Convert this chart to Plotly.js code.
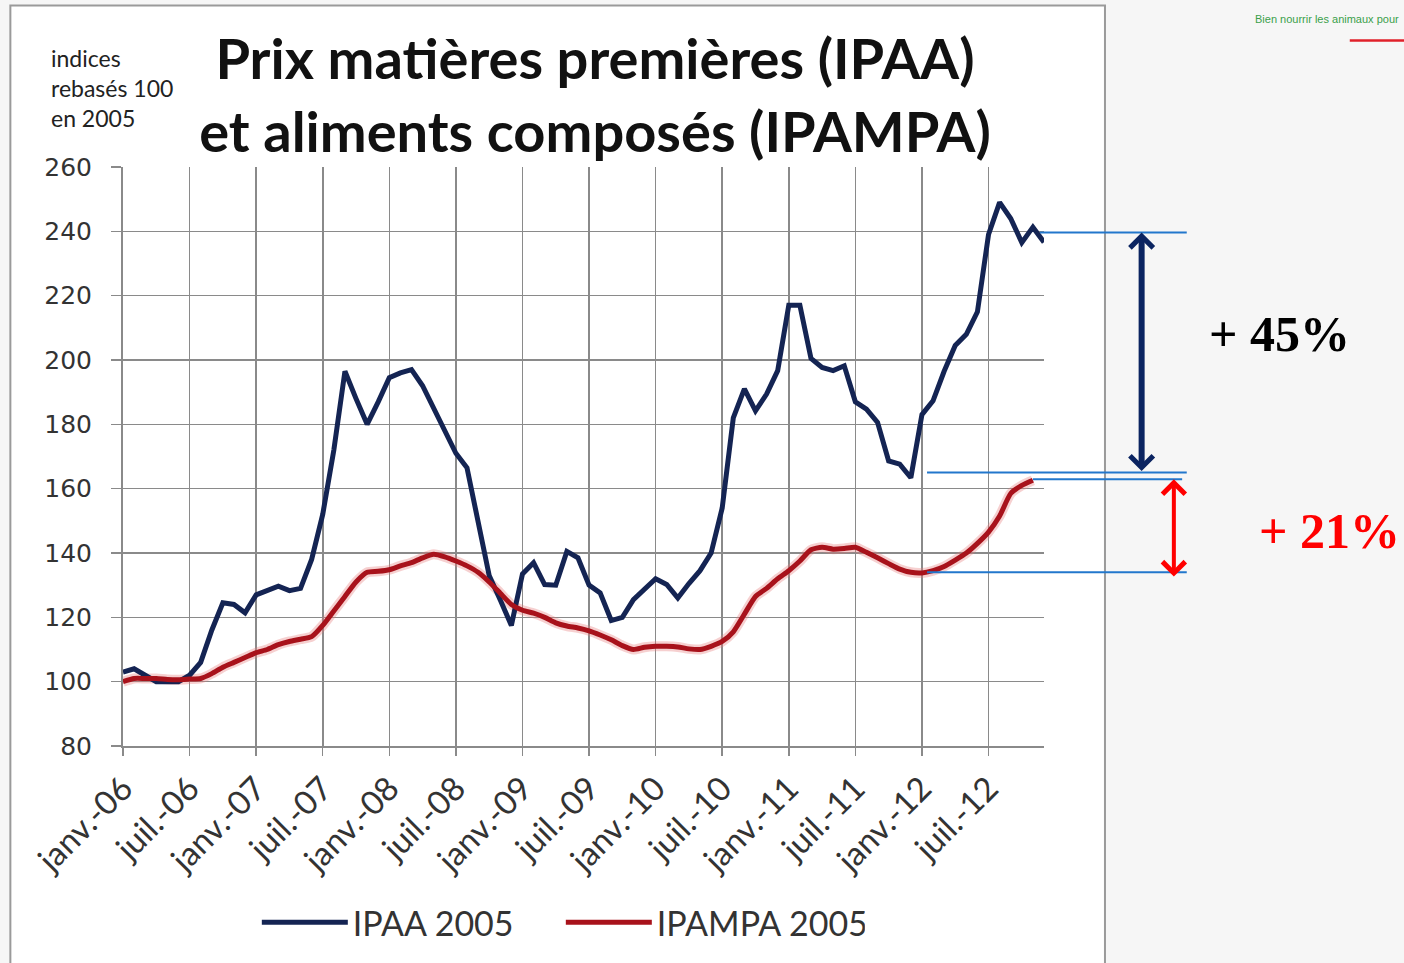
<!DOCTYPE html>
<html>
<head>
<meta charset="utf-8">
<script src="https://cdn.plot.ly/plotly-3.0.1.min.js"></script>
<style>
  html, body { margin: 0; padding: 0; background: #f6f6f6; }
  #chart { width: 1404px; height: 963px; }
</style>
</head>
<body>
<div id="chart"></div>
<script>
// ---- Data ----
const moisAbr = ['janv.', 'févr.', 'mars', 'avr.', 'mai', 'juin', 'juil.', 'août', 'sept.', 'oct.', 'nov.', 'déc.'];
const annees = ['06', '07', '08', '09', '10', '11', '12'];
const mois = annees.flatMap(a => moisAbr.map(m => m + '-' + a));

const tickLabels = ['janv.-06', 'juil.-06', 'janv.-07', 'juil.-07', 'janv.-08', 'juil.-08', 'janv.-09',
  'juil.-09', 'janv.-10', 'juil.-10', 'janv.-11', 'juil.-11', 'janv.-12', 'juil.-12'];

const ipaa = [103, 104, 102, 100, 100, 100, 102, 106, 116, 124.5,
  124, 121.4, 127, 128.5, 129.7, 128.3, 129, 138, 152, 172,
  196.5, 188, 180, 187, 194.5, 196, 197, 192, 185, 178,
  171, 166.5, 150.5, 133, 125.4, 117.5, 133.5, 137, 130.2, 130,
  140.5, 138.5, 130, 127.6, 119, 120, 125.5, 129, 132, 130.2,
  126, 130.5, 134.5, 140, 154, 182, 191, 184.2, 189.4, 196.7,
  217, 217, 200.5, 197.7, 196.7, 198.2, 187, 184.7, 180.6, 168.6,
  167.6, 163.4, 183, 187.3, 196.5, 204.5, 208, 215, 239, 249,
  244, 236.5, 241.3, 236.6];

const ipampa = [100, 101, 101, 101, 100.7, 100.6, 100.8, 101, 102.5, 104.5,
  106, 107.5, 109, 110, 111.5, 112.5, 113.2, 114, 117.5, 122,
  126.5, 131, 134, 134.3, 134.8, 136, 137, 138.5, 139.6, 138.8,
  137.5, 136, 134, 131, 127.5, 124, 122.2, 121.3, 120, 118.3,
  117.3, 116.7, 115.8, 114.5, 113, 111.2, 110, 110.7, 111, 111,
  110.8, 110.2, 110, 111, 112.5, 115.5, 121, 126.5, 129, 132,
  134.5, 137.5, 141, 141.8, 141.2, 141.4, 141.8, 140.2, 138.5, 136.7,
  135, 134, 133.8, 134.5, 135.8, 137.8, 140, 143, 146.5, 151.5,
  158.5, 161, 162.6];

const seriesNames = ['IPAA 2005', 'IPAMPA 2005'];

// Reference levels for the annotation brackets
const niveauIpaaHaut = 239.6, niveauIpaaBas = 165.0;
const niveauIpampaHaut = 162.9, niveauIpampaBas = 134.0;
const hausses = ['+ 45%', '+ 21%'];

// ---- Plot ----
const traces = [
  {
    x: mois.slice(0, ipampa.length), y: ipampa, name: seriesNames[1], type: 'scatter', mode: 'lines',
    line: { color: 'rgba(230,120,120,0.35)', width: 10, shape: 'spline', smoothing: 0.6 },
    showlegend: false, hoverinfo: 'skip'
  },
  {
    x: mois.slice(0, ipaa.length), y: ipaa, name: seriesNames[0], type: 'scatter', mode: 'lines',
    line: { color: '#142453', width: 5 }
  },
  {
    x: mois.slice(0, ipampa.length), y: ipampa, name: seriesNames[1], type: 'scatter', mode: 'lines',
    line: { color: '#a8121b', width: 5, shape: 'spline', smoothing: 0.6 }
  }
];

const blue = '#2277cc';
const layout = {
  width: 1404, height: 963,
  paper_bgcolor: '#f6f6f6',
  plot_bgcolor: '#ffffff',
  margin: { l: 123, r: 360, t: 167, b: 216, pad: 0 },
  font: { family: 'Lato, sans-serif', color: '#222' },
  title: {
    text: 'Prix matières premières (IPAA)<br>et aliments composés (IPAMPA)',
    font: { family: 'Lato, sans-serif', size: 56, color: '#111', weight: 'bold' },
    x: 595 / 1404, xanchor: 'center', yref: 'container', y: 1 - 79 / 963, yanchor: 'middle'
  },
  xaxis: {
    type: 'category',
    range: [0, mois.length - 1],
    tickmode: 'array', tickvals: tickLabels, ticktext: tickLabels,
    tickangle: -45,
    tickfont: { family: 'Lato, sans-serif', size: 33, color: '#333' },
    showgrid: true, gridcolor: '#8a8a8a', gridwidth: 1.6,
    showline: true, linecolor: '#8a8a8a', linewidth: 2,
    ticks: 'outside', ticklen: 8, tickcolor: '#8a8a8a', tickwidth: 1.5,
    zeroline: false, fixedrange: true
  },
  yaxis: {
    range: [80, 260], dtick: 20, tick0: 80,
    tickfont: { family: 'DejaVu Sans, sans-serif', size: 25, color: '#333' },
    ticklabelstandoff: 14,
    showgrid: true, gridcolor: '#8a8a8a', gridwidth: 1.6,
    showline: true, linecolor: '#8a8a8a', linewidth: 2,
    ticks: 'outside', ticklen: 10, tickcolor: '#8a8a8a', tickwidth: 1.5,
    zeroline: false, fixedrange: true
  },
  legend: {
    orientation: 'h', x: 0.1453, xanchor: 'left', y: -0.303, yanchor: 'middle',
    font: { family: 'Lato, sans-serif', size: 34, color: '#333' },
    entrywidth: 203, entrywidthmode: 'pixels', bgcolor: 'rgba(0,0,0,0)', itemwidth: 86
  },
  shapes: [
    // white chart frame
    { type: 'rect', xref: 'paper', yref: 'paper', layer: 'below',
      x0: -0.1223, x1: 1.0662, y0: -0.38, y1: 1.2788,
      fillcolor: '#ffffff', line: { color: '#9a9a9a', width: 2 } },
    // bracket lines
    { type: 'line', xref: 'paper', yref: 'y', x0: 0.9957, x1: 1.155, y0: niveauIpaaHaut, y1: niveauIpaaHaut, line: { color: blue, width: 2 } },
    { type: 'line', xref: 'paper', yref: 'y', x0: 0.873, x1: 1.155, y0: niveauIpaaBas, y1: niveauIpaaBas, line: { color: blue, width: 2 } },
    { type: 'line', xref: 'paper', yref: 'y', x0: 0.988, x1: 1.150, y0: niveauIpampaHaut, y1: niveauIpampaHaut, line: { color: blue, width: 2 } },
    { type: 'line', xref: 'paper', yref: 'y', x0: 0.873, x1: 1.155, y0: niveauIpampaBas, y1: niveauIpampaBas, line: { color: blue, width: 2 } },
    // logo fragment, top right
    { type: 'line', xref: 'paper', yref: 'paper', x0: 1.332, x1: 1.391, y0: 1.2185, y1: 1.2185, line: { color: '#e0202a', width: 2.5 } }
  ],
  annotations: [
    { xref: 'paper', yref: 'paper', x: (49 - 123) / 921, y: (746.5 - 42) / 579.8, xanchor: 'left', yanchor: 'top',
      align: 'left', showarrow: false,
      text: 'indices<br>rebasés 100<br>en 2005',
      font: { family: 'Lato, sans-serif', size: 23, color: '#222' } },
    // double arrows
    { xref: 'paper', yref: 'y', x: 1.106, y: niveauIpaaHaut, ax: 0, ayref: 'y', ay: niveauIpaaBas,
      text: '', showarrow: true, arrowside: 'end+start', arrowhead: 4, startarrowhead: 4,
      arrowsize: 0.75, startarrowsize: 0.75, arrowwidth: 6, arrowcolor: '#0b2461' },
    { xref: 'paper', yref: 'y', x: 1.141, y: niveauIpampaHaut, ax: 0, ayref: 'y', ay: niveauIpampaBas - 1.8,
      text: '', showarrow: true, arrowside: 'end+start', arrowhead: 4, startarrowhead: 4,
      arrowsize: 1.1, startarrowsize: 1.1, arrowwidth: 4, arrowcolor: '#ff0000' },
    { xref: 'paper', yref: 'y', x: 1.177, y: 208.2, xanchor: 'left', yanchor: 'middle', showarrow: false,
      text: '<b>' + hausses[0] + '</b>',
      font: { family: 'Liberation Serif, serif', size: 50, color: '#000' } },
    { xref: 'paper', yref: 'y', x: 1.231, y: 146.8, xanchor: 'left', yanchor: 'middle', showarrow: false,
      text: '<b>' + hausses[1] + '</b>',
      font: { family: 'Liberation Serif, serif', size: 50, color: '#ff0000' } },
    { xref: 'paper', yref: 'paper', x: 1.388, y: (746.5 - 18) / 579.8, xanchor: 'right', yanchor: 'middle', showarrow: false,
      text: 'Bien nourrir les animaux pour',
      font: { family: 'Liberation Sans, sans-serif', size: 11, color: '#3aa04a' } }
  ]
};

Plotly.newPlot('chart', traces, layout, { staticPlot: true, displayModeBar: false });
</script>
</body>
</html>
